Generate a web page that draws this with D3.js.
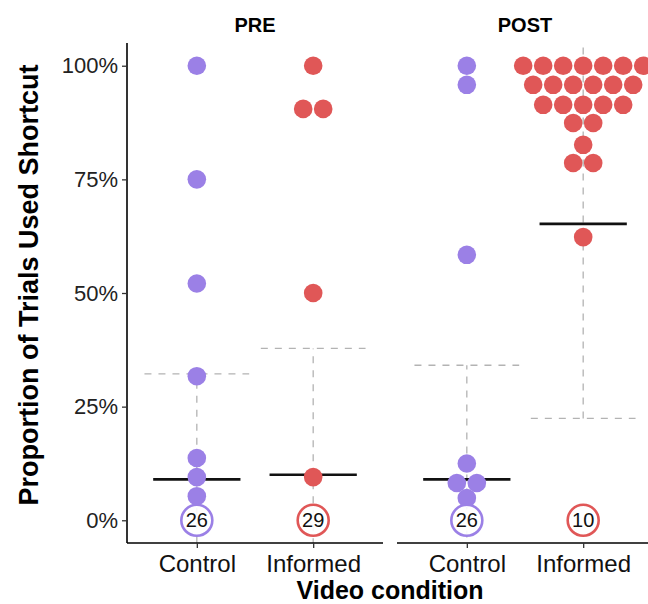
<!DOCTYPE html>
<html>
<head>
<meta charset="utf-8">
<script src="https://cdn.jsdelivr.net/npm/d3@7"></script>
<style>
  body { margin: 0; background: #fff; }
  svg { display: block; font-family: "Liberation Sans", Arial, Helvetica, sans-serif; }
</style>
</head>
<body>
<div id="chart"></div>
<script>
// facets and categories
var panels = ["PRE", "POST"];
var conditions = ["Control", "Informed"];

// non-zero proportions per participant
var preControl   = [1.0, 0.75, 0.521, 0.317, 0.137, 0.095, 0.053];
var preInformed  = [1.0, 0.905, 0.905, 0.5, 0.095];
var postControl  = [1.0, 0.958, 0.584, 0.125, 0.082, 0.082, 0.049];
var postInformed = [1.0, 1.0, 1.0, 1.0, 1.0, 1.0, 1.0,
                    0.958, 0.958, 0.958, 0.958, 0.958, 0.958,
                    0.914, 0.914, 0.914, 0.914, 0.914,
                    0.874, 0.874, 0.826, 0.786, 0.786, 0.623];

// participants at 0%, shown as a count in a ring
var zeroCounts = [[26, 29], [26, 10]];
// mean (solid) and mean +/- sd (dashed)
var means = [[0.090, 0.100], [0.090, 0.652]];
var sds   = [[0.232, 0.278], [0.251, 0.428]];

var yTicks = [0, 0.25, 0.5, 0.75, 1];
var colors = {Control: "#9B80E6", Informed: "#E05757"};

var values = [[preControl, preInformed], [postControl, postInformed]];

var W = 648, H = 604;
var yTop = 43, yBottom = 543;
var panelX = [[127, 383], [397, 653]];
var dotR = 9.3, dotStep = 20;

var svg = d3.select("#chart").append("svg")
    .attr("width", W)
    .attr("height", H);

var y = d3.scaleLinear().domain([-0.05, 1.05]).range([yBottom, yTop]);

// y axis
var yAxis = svg.append("g")
    .attr("transform", "translate(" + panelX[0][0] + ",0)")
    .call(d3.axisLeft(y).tickValues(yTicks).tickFormat(d3.format(".0%")).tickSize(5).tickPadding(4));
yAxis.select(".domain").attr("d", "M0," + yTop + "V" + yBottom).style("stroke", "#000").style("stroke-width", 1.6);
yAxis.selectAll(".tick line").style("stroke", "#333").style("stroke-width", 1.3);
yAxis.selectAll(".tick text").style("font-size", "22px").style("fill", "#222").attr("font-family", null);

svg.append("text")
    .attr("transform", "translate(38," + ((yTop + yBottom) / 2 - 8) + ") rotate(-90)")
    .attr("text-anchor", "middle")
    .style("font-size", "27px")
    .style("font-weight", "bold")
    .text("Proportion of Trials Used Shortcut");

svg.append("text")
    .attr("x", (panelX[0][0] + panelX[1][1]) / 2)
    .attr("y", 599)
    .attr("text-anchor", "middle")
    .style("font-size", "25px")
    .style("font-weight", "bold")
    .text("Video condition");

panels.forEach(function(p, pi){
  var x0 = panelX[pi][0], x1 = panelX[pi][1];
  var x = d3.scalePoint().domain(conditions).range([x0, x1]).padding(0.6);

  svg.append("clipPath").attr("id", "clip" + pi)
    .append("rect").attr("x", x0).attr("y", yTop).attr("width", x1 - x0).attr("height", yBottom - yTop);

  var g = svg.append("g");
  var plot = g.append("g").attr("clip-path", "url(#clip" + pi + ")");

  // strip title
  g.append("text")
    .attr("x", (x0 + x1) / 2)
    .attr("y", 32)
    .attr("text-anchor", "middle")
    .style("font-size", "20px")
    .style("font-weight", "bold")
    .text(p);

  // x axis
  var xAxis = g.append("g")
    .attr("transform", "translate(0," + yBottom + ")")
    .call(d3.axisBottom(x).tickSize(5).tickPadding(7));
  xAxis.select(".domain").attr("d", "M" + x0 + ",0H" + x1).style("stroke", "#000").style("stroke-width", 1.6);
  xAxis.selectAll(".tick line").style("stroke", "#333").style("stroke-width", 1.3);
  xAxis.selectAll(".tick text").style("font-size", "24px").style("fill", "#111").attr("font-family", null);

  var bw = x.step();

  conditions.forEach(function(c, ci){
    var cx = x(c);
    var m = means[pi][ci], s = sds[pi][ci];
    var lo = m - s, hi = m + s;

    // dashed sd range
    plot.append("line")
      .attr("x1", cx).attr("x2", cx)
      .attr("y1", y(lo)).attr("y2", y(hi))
      .style("stroke", "#b3b3b3").style("stroke-width", 1.3).style("stroke-dasharray", "7,7");
    [lo, hi].forEach(function(v){
      plot.append("line")
        .attr("x1", cx - bw * 0.45).attr("x2", cx + bw * 0.45)
        .attr("y1", y(v)).attr("y2", y(v))
        .style("stroke", "#b3b3b3").style("stroke-width", 1.3).style("stroke-dasharray", "7,7");
    });

    // mean
    plot.append("line")
      .attr("x1", cx - bw * 0.375).attr("x2", cx + bw * 0.375)
      .attr("y1", y(m)).attr("y2", y(m))
      .style("stroke", "#111").style("stroke-width", 2.6);

    // dots, equal values stacked side by side
    var groups = d3.groups(values[pi][ci], function(v){ return v; });
    var pts = [];
    groups.forEach(function(gr){
      var k = gr[1].length;
      gr[1].forEach(function(v, i){
        pts.push({v: v, dx: (i - (k - 1) / 2) * dotStep});
      });
    });
    g.selectAll(null)
      .data(pts)
      .enter()
      .append("circle")
      .attr("cx", function(d){ return cx + d.dx; })
      .attr("cy", function(d){ return y(d.v); })
      .attr("r", dotR)
      .style("fill", colors[c]);

    // ring with number of zero scores
    g.append("circle")
      .attr("cx", cx).attr("cy", y(0))
      .attr("r", 15.5)
      .style("fill", "#fff").style("fill-opacity", 0.9)
      .style("stroke", colors[c]).style("stroke-width", 2.6);
    g.append("text")
      .attr("x", cx).attr("y", y(0))
      .attr("dy", "0.36em")
      .attr("text-anchor", "middle")
      .style("font-size", "20px")
      .style("fill", "#111")
      .text(zeroCounts[pi][ci]);
  });
});
</script>
</body>
</html>
